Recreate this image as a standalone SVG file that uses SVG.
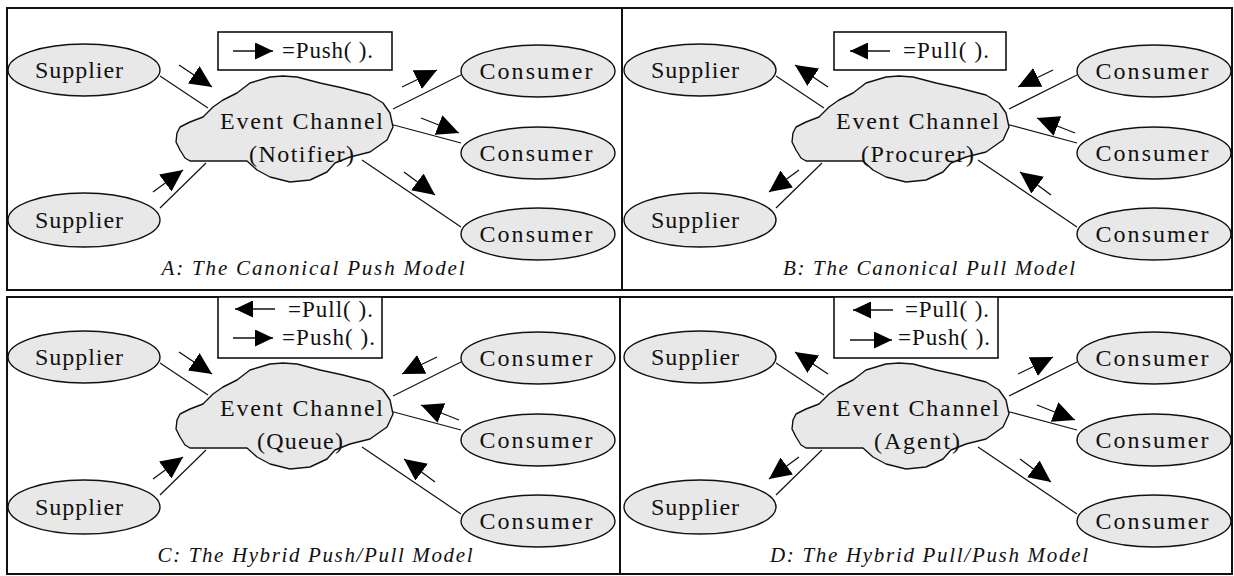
<svg xmlns="http://www.w3.org/2000/svg" width="1234" height="576" viewBox="0 0 1234 576">
<style>
.bg{fill:#ffffff}
.frame{fill:none;stroke:#111;stroke-width:2}
.el{fill:#e8e8e8;stroke:#111;stroke-width:1.4}
.cloud{fill:#e8e8e8;stroke:#111;stroke-width:1.4;stroke-linejoin:round}
.lbl{font-family:"Liberation Serif","Times New Roman",serif;font-size:24px;fill:#111}
.cap{font-family:"Liberation Serif","Times New Roman",serif;font-style:italic;font-size:21px;fill:#111}
.leg{font-family:"Liberation Serif","Times New Roman",serif;font-size:23px;fill:#111}
.lbox{fill:#fff;stroke:#111;stroke-width:1.6}
.con{fill:none;stroke:#111;stroke-width:1.2}
.arr{fill:none;stroke:#111;stroke-width:1.3;marker-end:url(#ah)}
.larr{fill:none;stroke:#111;stroke-width:1.6;marker-end:url(#ahs)}
</style>
<defs>
<marker id="ah" markerUnits="userSpaceOnUse" viewBox="0 0 22 21" markerWidth="22" markerHeight="21" refX="22" refY="10.5" orient="auto"><path d="M0,0 L22,10.5 L0,21 Z" fill="#000"/></marker>
<marker id="ahs" markerUnits="userSpaceOnUse" viewBox="0 0 18 17" markerWidth="18" markerHeight="17" refX="18" refY="8.5" orient="auto"><path d="M0,0 L18,8.5 L0,17 Z" fill="#000"/></marker>
<path id="cloudShape" d="M283,76 L297,77 L320,83 L343,88 L370,95 L383,103 L390,113 L393,127 L387,140 L370,152 L350,157 L335,163 L327,172 L310,180 L290,182 L270,177 L257,170 L247,161 L190,161 L185,158 L180,150 L176,142 L177,133 L180,127 L190,122 L203,117 L210,110 L213,107 L223,100 L237,93 L250,83 L270,77 Z"/>
</defs>
<rect class="bg" x="0" y="0" width="1234" height="576"/>

<g id="frames">
<rect class="frame" x="7" y="8" width="1225" height="282"/>
<line class="frame" x1="622" y1="8" x2="622" y2="290"/>
<rect class="frame" x="7" y="297" width="1225" height="277"/>
<line class="frame" x1="620" y1="297" x2="620" y2="574"/>
</g>

<g id="connectors">
<g id="conA">
<line class="con" x1="160" y1="76" x2="208" y2="108"/>
<line class="con" x1="160" y1="208" x2="206" y2="163"/>
<line class="con" x1="393" y1="109" x2="461" y2="75"/>
<line class="con" x1="390" y1="124" x2="461" y2="143"/>
<line class="con" x1="362" y1="160" x2="461" y2="227"/>
<line class="arr" x1="179" y1="65" x2="212" y2="87"/>
<line class="arr" x1="153" y1="192" x2="183" y2="170"/>
<line class="arr" x1="402" y1="87" x2="437" y2="70"/>
<line class="arr" x1="421" y1="118" x2="459" y2="133"/>
<line class="arr" x1="404" y1="172" x2="435" y2="195"/>
</g>
<g id="conB" transform="translate(616,0)">
<line class="con" x1="160" y1="76" x2="208" y2="108"/>
<line class="con" x1="160" y1="208" x2="206" y2="163"/>
<line class="con" x1="393" y1="109" x2="461" y2="75"/>
<line class="con" x1="390" y1="124" x2="461" y2="143"/>
<line class="con" x1="362" y1="160" x2="461" y2="227"/>
<line class="arr" x2="179" y2="65" x1="212" y1="87"/>
<line class="arr" x2="153" y2="192" x1="183" y1="170"/>
<line class="arr" x2="402" y2="87" x1="437" y1="70"/>
<line class="arr" x2="421" y2="118" x1="459" y1="133"/>
<line class="arr" x2="404" y2="172" x1="435" y1="195"/>
</g>
<g id="conC" transform="translate(0,287)">
<line class="con" x1="160" y1="76" x2="208" y2="108"/>
<line class="con" x1="160" y1="208" x2="206" y2="163"/>
<line class="con" x1="393" y1="109" x2="461" y2="75"/>
<line class="con" x1="390" y1="124" x2="461" y2="143"/>
<line class="con" x1="362" y1="160" x2="461" y2="227"/>
<line class="arr" x1="179" y1="65" x2="212" y2="87"/>
<line class="arr" x1="153" y1="192" x2="183" y2="170"/>
<line class="arr" x2="402" y2="87" x1="437" y1="70"/>
<line class="arr" x2="421" y2="118" x1="459" y1="133"/>
<line class="arr" x2="404" y2="172" x1="435" y1="195"/>
</g>
<g id="conD" transform="translate(616,287)">
<line class="con" x1="160" y1="76" x2="208" y2="108"/>
<line class="con" x1="160" y1="208" x2="206" y2="163"/>
<line class="con" x1="393" y1="109" x2="461" y2="75"/>
<line class="con" x1="390" y1="124" x2="461" y2="143"/>
<line class="con" x1="362" y1="160" x2="461" y2="227"/>
<line class="arr" x2="179" y2="65" x1="212" y1="87"/>
<line class="arr" x2="153" y2="192" x1="183" y1="170"/>
<line class="arr" x1="402" y1="87" x2="437" y2="70"/>
<line class="arr" x1="421" y1="118" x2="459" y2="133"/>
<line class="arr" x1="404" y1="172" x2="435" y2="195"/>
</g>
</g>

<!-- Panel A -->
<g id="A-supplier1"><ellipse class="el" cx="84" cy="70" rx="76" ry="26"/><text class="lbl" x="79" y="78" text-anchor="middle" textLength="88" lengthAdjust="spacing">Supplier</text></g>
<g id="A-supplier2"><ellipse class="el" cx="84" cy="220" rx="76" ry="27"/><text class="lbl" x="79" y="228" text-anchor="middle" textLength="88" lengthAdjust="spacing">Supplier</text></g>
<g id="A-channel"><use href="#cloudShape" class="cloud"/><text class="lbl" x="301.5" y="129" text-anchor="middle" textLength="163" lengthAdjust="spacing">Event Channel</text><text class="lbl" x="301.5" y="162" text-anchor="middle" textLength="105" lengthAdjust="spacing">(Notifier)</text></g>
<g id="A-consumer1"><ellipse class="el" cx="538" cy="71" rx="77" ry="26"/><text class="lbl" x="536" y="79" text-anchor="middle" textLength="113" lengthAdjust="spacing">Consumer</text></g>
<g id="A-consumer2"><ellipse class="el" cx="538" cy="153" rx="77" ry="26"/><text class="lbl" x="536" y="161" text-anchor="middle" textLength="113" lengthAdjust="spacing">Consumer</text></g>
<g id="A-consumer3"><ellipse class="el" cx="538" cy="234" rx="77" ry="26"/><text class="lbl" x="536" y="242" text-anchor="middle" textLength="113" lengthAdjust="spacing">Consumer</text></g>
<g id="A-legend"><rect class="lbox" x="218" y="32" width="174" height="38"/><line class="larr" x1="233" y1="51" x2="273" y2="51"/><text class="leg" x="282" y="58" textLength="91" lengthAdjust="spacing">=Push( ).</text></g>
<g id="A-caption"><text class="cap" x="313" y="275" text-anchor="middle" textLength="303" lengthAdjust="spacing">A: The Canonical Push Model</text></g>

<!-- Panel B -->
<g id="B-supplier1"><ellipse class="el" cx="700" cy="70" rx="76" ry="26"/><text class="lbl" x="695" y="78" text-anchor="middle" textLength="88" lengthAdjust="spacing">Supplier</text></g>
<g id="B-supplier2"><ellipse class="el" cx="700" cy="220" rx="76" ry="27"/><text class="lbl" x="695" y="228" text-anchor="middle" textLength="88" lengthAdjust="spacing">Supplier</text></g>
<g id="B-channel"><use href="#cloudShape" class="cloud" transform="translate(616,0)"/><text class="lbl" x="917.5" y="129" text-anchor="middle" textLength="163" lengthAdjust="spacing">Event Channel</text><text class="lbl" x="917.5" y="162" text-anchor="middle" textLength="113" lengthAdjust="spacing">(Procurer)</text></g>
<g id="B-consumer1"><ellipse class="el" cx="1154" cy="71" rx="77" ry="26"/><text class="lbl" x="1152" y="79" text-anchor="middle" textLength="113" lengthAdjust="spacing">Consumer</text></g>
<g id="B-consumer2"><ellipse class="el" cx="1154" cy="153" rx="77" ry="26"/><text class="lbl" x="1152" y="161" text-anchor="middle" textLength="113" lengthAdjust="spacing">Consumer</text></g>
<g id="B-consumer3"><ellipse class="el" cx="1154" cy="234" rx="77" ry="26"/><text class="lbl" x="1152" y="242" text-anchor="middle" textLength="113" lengthAdjust="spacing">Consumer</text></g>
<g id="B-legend"><rect class="lbox" x="834" y="32" width="172" height="38"/><line class="larr" x1="890" y1="51" x2="850" y2="51"/><text class="leg" x="903" y="58" textLength="86" lengthAdjust="spacing">=Pull( ).</text></g>
<g id="B-caption"><text class="cap" x="929" y="275" text-anchor="middle" textLength="292" lengthAdjust="spacing">B: The Canonical Pull Model</text></g>

<!-- Panel C -->
<g id="C-supplier1"><ellipse class="el" cx="84" cy="357" rx="76" ry="26"/><text class="lbl" x="79" y="365" text-anchor="middle" textLength="88" lengthAdjust="spacing">Supplier</text></g>
<g id="C-supplier2"><ellipse class="el" cx="84" cy="507" rx="76" ry="27"/><text class="lbl" x="79" y="515" text-anchor="middle" textLength="88" lengthAdjust="spacing">Supplier</text></g>
<g id="C-channel"><use href="#cloudShape" class="cloud" transform="translate(0,287)"/><text class="lbl" x="301.5" y="416" text-anchor="middle" textLength="163" lengthAdjust="spacing">Event Channel</text><text class="lbl" x="300" y="449" text-anchor="middle" textLength="86" lengthAdjust="spacing">(Queue)</text></g>
<g id="C-consumer1"><ellipse class="el" cx="538" cy="358" rx="77" ry="26"/><text class="lbl" x="536" y="366" text-anchor="middle" textLength="113" lengthAdjust="spacing">Consumer</text></g>
<g id="C-consumer2"><ellipse class="el" cx="538" cy="440" rx="77" ry="26"/><text class="lbl" x="536" y="448" text-anchor="middle" textLength="113" lengthAdjust="spacing">Consumer</text></g>
<g id="C-consumer3"><ellipse class="el" cx="538" cy="521" rx="77" ry="26"/><text class="lbl" x="536" y="529" text-anchor="middle" textLength="113" lengthAdjust="spacing">Consumer</text></g>
<g id="C-legend"><rect class="lbox" x="218" y="297" width="164" height="61"/><line class="larr" x1="275" y1="309" x2="235" y2="309"/><text class="leg" x="288" y="317" textLength="85" lengthAdjust="spacing">=Pull( ).</text><line class="larr" x1="233" y1="338" x2="273" y2="338"/><text class="leg" x="282" y="345" textLength="93" lengthAdjust="spacing">=Push( ).</text></g>
<g id="C-caption"><text class="cap" x="315" y="562" text-anchor="middle" textLength="315" lengthAdjust="spacing">C: The Hybrid Push/Pull Model</text></g>

<!-- Panel D -->
<g id="D-supplier1"><ellipse class="el" cx="700" cy="357" rx="76" ry="26"/><text class="lbl" x="695" y="365" text-anchor="middle" textLength="88" lengthAdjust="spacing">Supplier</text></g>
<g id="D-supplier2"><ellipse class="el" cx="700" cy="507" rx="76" ry="27"/><text class="lbl" x="695" y="515" text-anchor="middle" textLength="88" lengthAdjust="spacing">Supplier</text></g>
<g id="D-channel"><use href="#cloudShape" class="cloud" transform="translate(616,287)"/><text class="lbl" x="917.5" y="416" text-anchor="middle" textLength="163" lengthAdjust="spacing">Event Channel</text><text class="lbl" x="917" y="449" text-anchor="middle" textLength="86" lengthAdjust="spacing">(Agent)</text></g>
<g id="D-consumer1"><ellipse class="el" cx="1154" cy="358" rx="77" ry="26"/><text class="lbl" x="1152" y="366" text-anchor="middle" textLength="113" lengthAdjust="spacing">Consumer</text></g>
<g id="D-consumer2"><ellipse class="el" cx="1154" cy="440" rx="77" ry="26"/><text class="lbl" x="1152" y="448" text-anchor="middle" textLength="113" lengthAdjust="spacing">Consumer</text></g>
<g id="D-consumer3"><ellipse class="el" cx="1154" cy="521" rx="77" ry="26"/><text class="lbl" x="1152" y="529" text-anchor="middle" textLength="113" lengthAdjust="spacing">Consumer</text></g>
<g id="D-legend"><rect class="lbox" x="834" y="297" width="164" height="61"/><line class="larr" x1="893" y1="310" x2="853" y2="310"/><text class="leg" x="905" y="317" textLength="84" lengthAdjust="spacing">=Pull( ).</text><line class="larr" x1="850" y1="340" x2="892" y2="340"/><text class="leg" x="898" y="345" textLength="92" lengthAdjust="spacing">=Push( ).</text></g>
<g id="D-caption"><text class="cap" x="929" y="562" text-anchor="middle" textLength="318" lengthAdjust="spacing">D: The Hybrid Pull/Push Model</text></g>
</svg>
